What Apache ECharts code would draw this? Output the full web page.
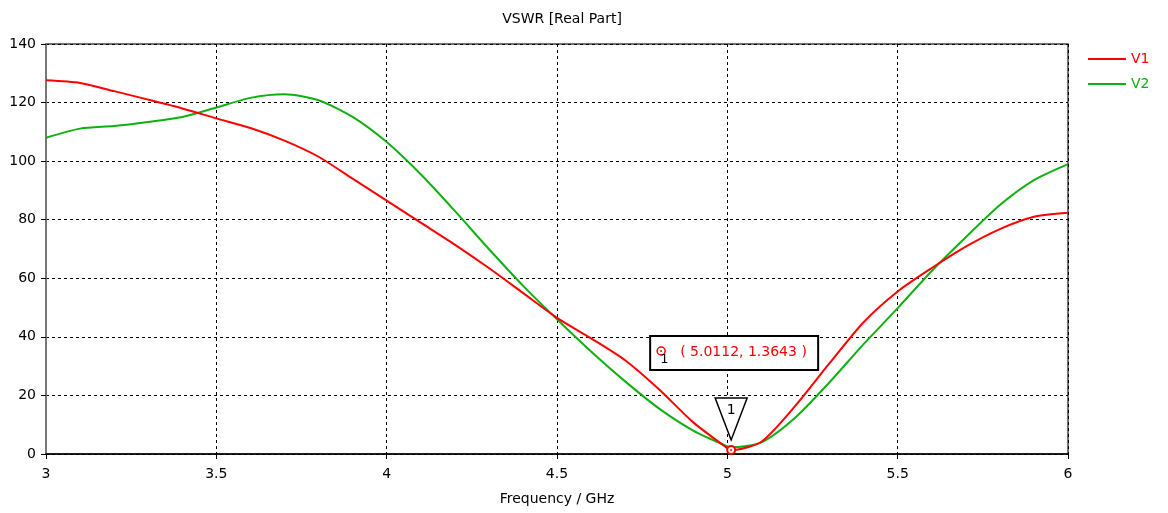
<!DOCTYPE html>
<html>
<head>
<meta charset="utf-8" />
<title>VSWR [Real Part]</title>
<style>
  * { margin: 0; padding: 0; }
  body { background: #ffffff; }
  #main { width: 1168px; height: 513px; }
</style>
<script src="https://cdn.jsdelivr.net/npm/echarts@6/dist/echarts.min.js"></script>
</head>
<body>
<div id="main"></div>
<script>
// frequency points (GHz)
var freq = [3.0, 3.1, 3.2, 3.3, 3.4, 3.5, 3.6, 3.7, 3.8, 3.9, 4.0, 4.1, 4.2, 4.3, 4.4, 4.5,
            4.6, 4.7, 4.8, 4.9, 5.0, 5.0112, 5.1, 5.2, 5.3, 5.4, 5.5, 5.6, 5.7, 5.8, 5.9, 6.0];
var v1 = [127.6, 126.7, 123.9, 121, 118, 114.6, 111.3, 107, 101.5, 94, 86.5, 79, 71.5, 63.5, 55, 46.5,
          39.5, 32, 22, 10.8, 2, 1.3643, 4.2, 16.5, 31, 45, 55.5, 63.5, 70.8, 76.8, 81, 82.4];
var v2 = [108, 111.1, 112, 113.4, 115.1, 118.3, 121.6, 122.8, 120.8, 115.1, 106.5, 95.5, 83, 70, 57.5, 46,
          35, 24.8, 15.5, 8, 2.6, 2.3, 4, 12.5, 24.5, 37.5, 49.8, 62.5, 74, 85, 93.5, 99];
var xTicks = [3, 3.5, 4, 4.5, 5, 5.5, 6];
var marker = [5.0112, 1.3643];

function pairs(xs, ys) {
    var out = [];
    for (var i = 0; i < xs.length; i++) out.push([xs[i], ys[i]]);
    return out;
}

var font = 'DejaVu Sans';
var red = '#ff0000', green = '#10b010';
var chart = echarts.init(document.getElementById('main'));
var option = {
    backgroundColor: '#ffffff',
    animation: false,
    title: {
        text: 'VSWR [Real Part]',
        left: 557,
        textAlign: 'center',
        top: 7,
        textStyle: { fontFamily: font, fontSize: 14, fontWeight: 'normal', color: '#000' }
    },
    legend: {
        orient: 'vertical',
        left: 1083,
        top: 47,
        itemWidth: 38,
        itemHeight: 2,
        itemGap: 11,
        icon: 'rect',
        data: [
            { name: 'V1', textStyle: { color: red } },
            { name: 'V2', textStyle: { color: green } }
        ],
        textStyle: { fontFamily: font, fontSize: 14 }
    },
    grid: {
        left: 46, right: 100, top: 44, bottom: 59,
        show: true,
        borderColor: '#444',
        borderWidth: 1.5
    },
    xAxis: {
        type: 'value',
        min: 3, max: 6, interval: 0.5,
        name: 'Frequency / GHz',
        nameLocation: 'middle',
        nameGap: 38,
        nameTextStyle: { fontFamily: font, fontSize: 14, color: '#000' },
        axisLine: { onZero: false, lineStyle: { color: '#000', width: 1.5 } },
        axisTick: { show: true, length: 5, lineStyle: { color: '#000' } },
        axisLabel: {
            fontFamily: font, fontSize: 14, color: '#000', margin: 13,
            formatter: function (v) { return xTicks.indexOf(v) >= 0 ? String(v) : ''; }
        },
        splitLine: { show: true, lineStyle: { color: '#000', type: [3, 3], width: 1 } }
    },
    yAxis: {
        type: 'value',
        min: 0, max: 140, interval: 20,
        axisLine: { show: true, lineStyle: { color: '#777', width: 2 } },
        axisTick: { show: true, length: 5, lineStyle: { color: '#000' } },
        axisLabel: { fontFamily: font, fontSize: 14, color: '#000', margin: 10 },
        splitLine: { show: true, lineStyle: { color: '#000', type: [3, 3], width: 1 } }
    },
    series: [
        {
            name: 'V1',
            type: 'line',
            smooth: 0.25,
            showSymbol: false,
            color: red,
            lineStyle: { width: 2, color: red },
            data: pairs(freq, v1),
            z: 3
        },
        {
            name: 'V2',
            type: 'line',
            smooth: 0.25,
            showSymbol: false,
            color: green,
            lineStyle: { width: 2, color: green },
            data: pairs(freq, v2),
            z: 2
        }
    ]
};
chart.setOption(option);

// marker annotation, placed from the axis scales
var p = chart.convertToPixel({ gridIndex: 0 }, marker);
var bx = p[0] - 81, by = p[1] - 114;
var mfont = '14px "DejaVu Sans"';
chart.setOption({
    graphic: [
        {   // downward triangle above the point
            type: 'polygon', z: 10,
            shape: { points: [[p[0] - 16, p[1] - 52], [p[0] + 16, p[1] - 52], [p[0], p[1] - 10]] },
            style: { fill: '#fff', stroke: '#000', lineWidth: 1.5 }
        },
        {
            type: 'text', z: 11, x: p[0], y: p[1] - 47,
            style: { text: '1', fill: '#000', font: mfont, align: 'center' }
        },
        {   // value box
            type: 'rect', z: 10,
            shape: { x: bx, y: by, width: 168, height: 34 },
            style: { fill: '#fff', stroke: '#000', lineWidth: 2 }
        },
        {
            type: 'circle', z: 11,
            shape: { cx: bx + 11, cy: by + 15, r: 4 },
            style: { fill: '#fff', stroke: red, lineWidth: 1.5 }
        },
        {
            type: 'circle', z: 11,
            shape: { cx: bx + 11, cy: by + 15, r: 1 },
            style: { fill: red }
        },
        {
            type: 'text', z: 11, x: bx + 10, y: by + 17,
            style: { text: '1', fill: '#000', font: '13px "DejaVu Sans"' }
        },
        {
            type: 'text', z: 11, x: bx + 30, y: by + 9,
            style: { text: '( ' + marker[0] + ', ' + marker[1] + ' )', fill: red, font: mfont }
        },
        {   // marker on the curve
            type: 'circle', z: 12,
            shape: { cx: p[0], cy: p[1], r: 4 },
            style: { fill: '#fff', stroke: red, lineWidth: 2 }
        },
        {
            type: 'circle', z: 12,
            shape: { cx: p[0], cy: p[1], r: 1 },
            style: { fill: red }
        }
    ]
});
</script>
</body>
</html>
